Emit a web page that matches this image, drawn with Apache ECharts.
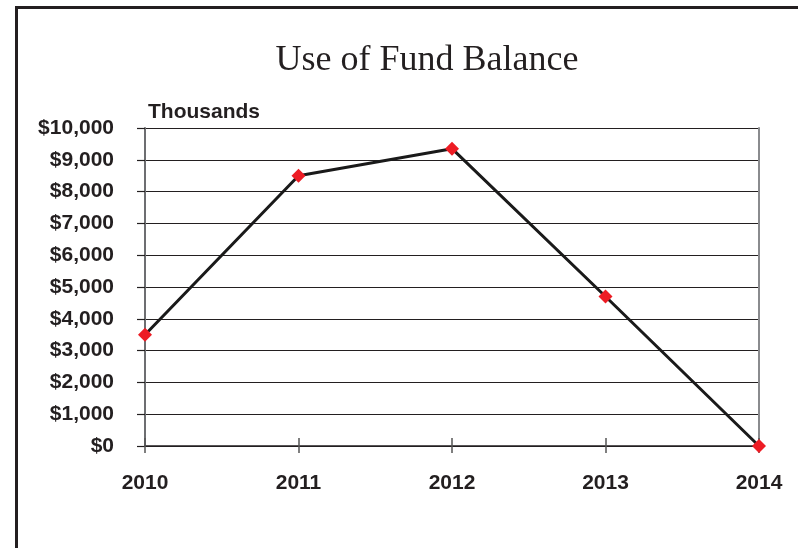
<!DOCTYPE html>
<html>
<head>
<meta charset="utf-8">
<title>Use of Fund Balance</title>
<script src="https://cdn.jsdelivr.net/npm/echarts@6/dist/echarts.min.js"></script>
<style>
  html, body { margin: 0; padding: 0; background: #ffffff; }
  #chart { width: 798px; height: 548px; }
</style>
</head>
<body>
<div id="chart"></div>
<script>
// Fiscal years on the category axis
const years = ['2010', '2011', '2012', '2013', '2014'];
// Fund balance used, in thousands of dollars
const fundBalanceUsed = [3500, 8500, 9350, 4700, 0];
// Value axis range and step
const yMin = 0;
const yMax = 10000;
const yStep = 1000;

const labelFont = {
  fontFamily: 'Liberation Sans, Arial, sans-serif',
  fontWeight: 'bold',
  fontSize: 21,
  color: '#231f20'
};

const chart = echarts.init(document.getElementById('chart'), null, { renderer: 'canvas' });

chart.setOption({
  animation: false,
  backgroundColor: '#ffffff',
  title: {
    text: 'Use of Fund Balance',
    left: 422,
    textAlign: 'center',
    top: 38,
    textStyle: {
      fontFamily: 'Liberation Serif, Times New Roman, serif',
      fontWeight: 'normal',
      fontSize: 36,
      color: '#231f20'
    }
  },
  graphic: [
    {
      // outer frame, running past the right and bottom edges
      type: 'rect',
      shape: { x: 16.5, y: 7.5, width: 900, height: 700 },
      style: { fill: 'none', stroke: '#231f20', lineWidth: 3 },
      silent: true
    },
    {
      type: 'text',
      left: 148,
      top: 102,
      style: {
        text: 'Thousands',
        fill: '#231f20',
        font: 'bold 21px "Liberation Sans", Arial, sans-serif'
      }
    }
  ],
  grid: { left: 145, right: 39, top: 128, bottom: 102, containLabel: false },
  xAxis: [
    {
      type: 'category',
      data: years,
      boundaryGap: false,
      position: 'bottom',
      axisLine: { show: true, onZero: false, lineStyle: { color: '#231f20', width: 1.5 } },
      axisTick: { show: true, alignWithLabel: true, length: 7, inside: false, lineStyle: { color: '#555', width: 1.5 } },
      axisLabel: Object.assign({ margin: 27 }, labelFont),
      splitLine: { show: false }
    },
    {
      // second copy of the same axis so the year ticks cross the baseline
      type: 'category',
      data: years,
      boundaryGap: false,
      position: 'bottom',
      offset: 0,
      axisLine: { show: false },
      axisTick: { show: true, length: 8, inside: true, lineStyle: { color: '#555', width: 1.5 } },
      axisLabel: { show: false },
      splitLine: { show: false }
    }
  ],
  yAxis: [
    {
      type: 'value',
      min: yMin,
      max: yMax,
      interval: yStep,
      position: 'left',
      axisLine: { show: true, lineStyle: { color: '#6d6e71', width: 2 } },
      axisTick: { show: true, length: 8, lineStyle: { color: '#231f20', width: 1.2 } },
      axisLabel: Object.assign({
        margin: 31,
        formatter: v => '$' + v.toLocaleString('en-US')
      }, labelFont),
      splitLine: { show: true, lineStyle: { color: '#231f20', width: 1.2 } }
    },
    {
      // right-hand edge of the plot area
      type: 'value',
      min: yMin,
      max: yMax,
      interval: yStep,
      position: 'right',
      axisLine: { show: true, lineStyle: { color: '#8a8b8e', width: 2 } },
      axisTick: { show: false },
      axisLabel: { show: false },
      splitLine: { show: false }
    }
  ],
  series: [
    {
      type: 'line',
      data: fundBalanceUsed,
      xAxisIndex: 0,
      yAxisIndex: 0,
      symbol: 'diamond',
      symbolSize: 14,
      showAllSymbol: true,
      lineStyle: { color: '#1a1a1a', width: 3 },
      itemStyle: { color: '#ed1c24', borderWidth: 0 },
      z: 5
    }
  ]
});
</script>
</body>
</html>
